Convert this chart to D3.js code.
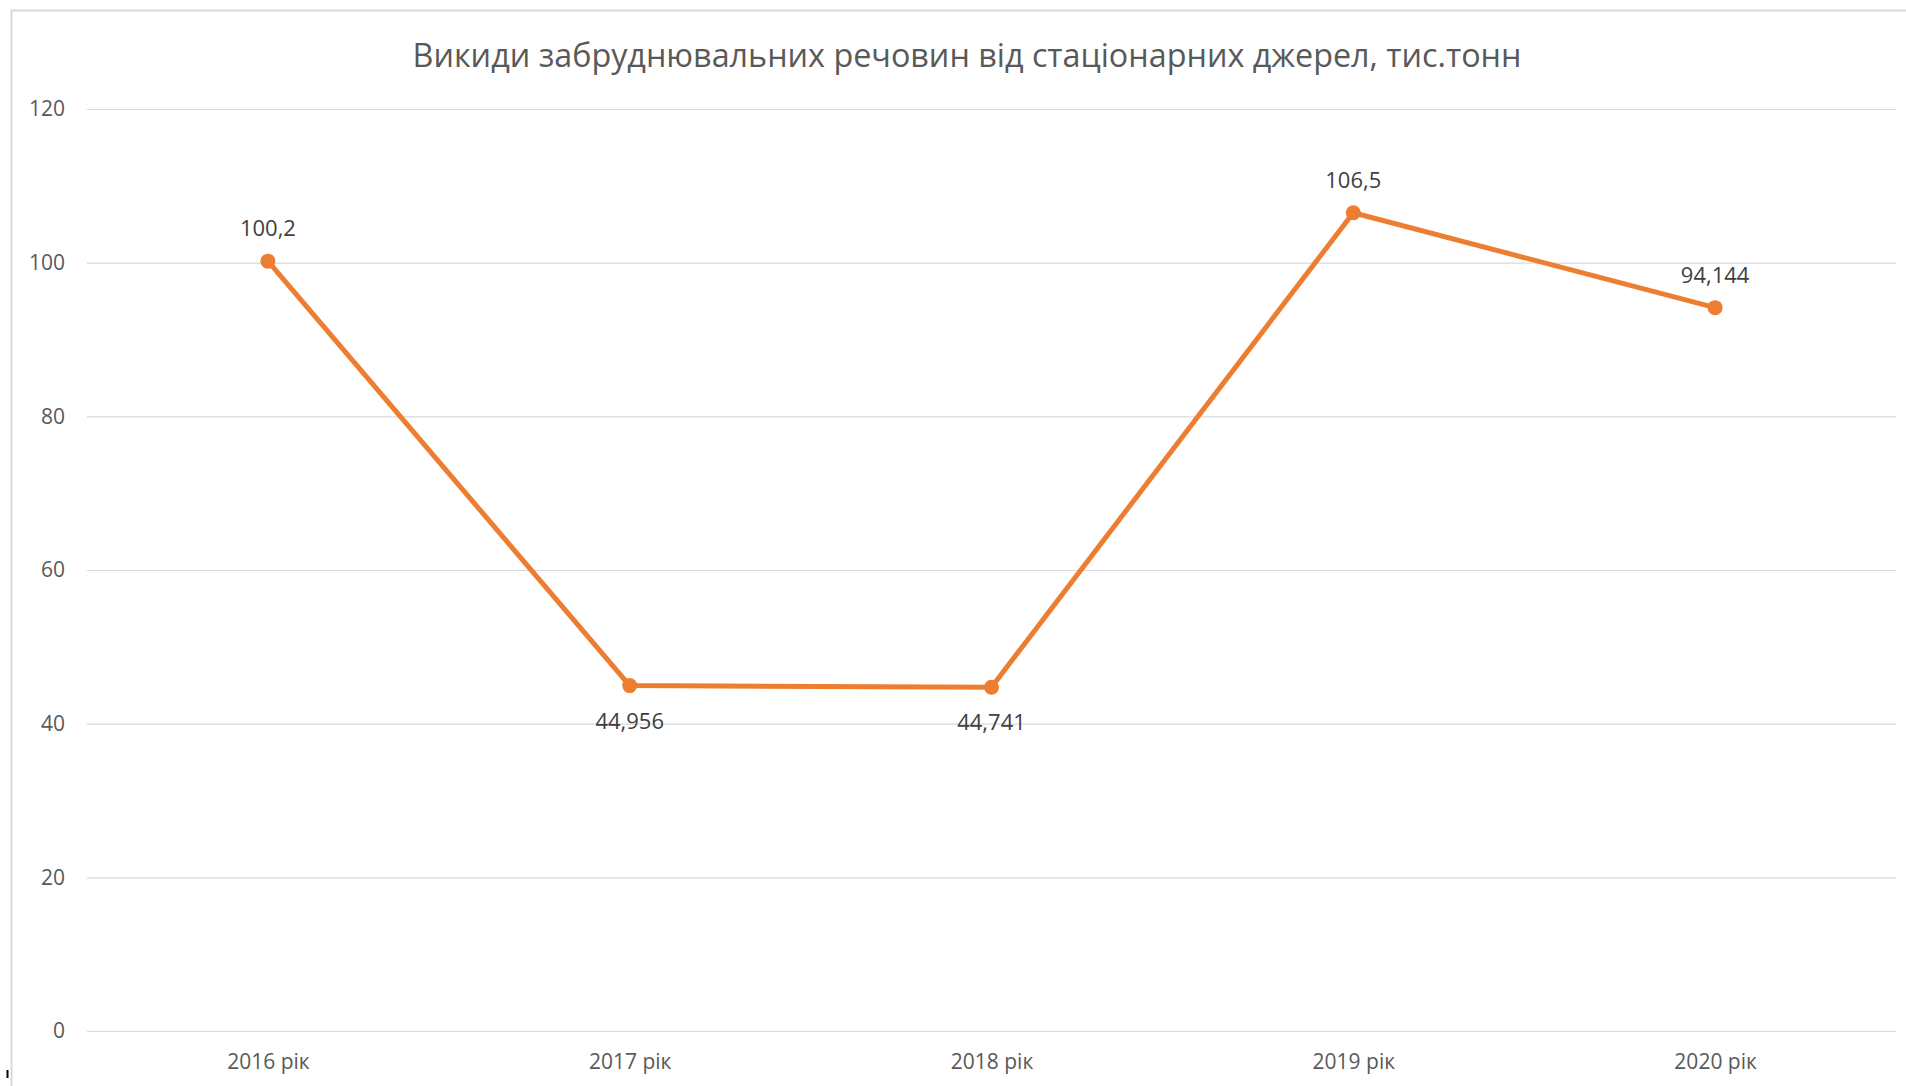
<!DOCTYPE html>
<html>
<head>
<meta charset="utf-8">
<script src="https://cdn.jsdelivr.net/npm/d3@7"></script>
<style>
  body { margin: 0; background: #fff; }
  svg { display: block; font-family: "Open Sans", sans-serif; }
</style>
</head>
<body>
<div id="chart"></div>
<script>
var title = 'Викиди забруднювальних речовин від стаціонарних джерел, тис.тонн';
var years = ['2016 рік', '2017 рік', '2018 рік', '2019 рік', '2020 рік'];
var emissions = [100.2, 44.956, 44.741, 106.5, 94.144];
var yTicks = [0, 20, 40, 60, 80, 100, 120];

var W = 1906, H = 1086;
var margin = {top: 109, right: 10, bottom: 55, left: 87};
var width = 1896 - margin.left;
var height = 1031 - margin.top;

var data = years.map(function (y, i) { return {year: y, value: emissions[i]}; });
var mean = d3.mean(emissions);

var x = d3.scalePoint().domain(years).range([0, width]).padding(0.5);
var y = d3.scaleLinear().domain([0, 120]).range([height, 0]);

var fmt = function (v) { return String(v).replace('.', ','); };

var svg = d3.select('#chart').append('svg')
    .attr('width', W)
    .attr('height', H);

// Chart area border
svg.append('rect')
  .attr('x', 11.5)
  .attr('y', 10.5)
  .attr('width', W + 20)
  .attr('height', H + 20)
  .attr('fill', 'none')
  .attr('stroke', '#d9d9d9')
  .attr('stroke-width', 2);

svg.append('path')
  .attr('d', 'M7.5,1070V1078')
  .attr('stroke', '#000')
  .attr('stroke-width', 2);

// Title
svg.append('text')
  .attr('x', 967)
  .attr('y', 67)
  .attr('text-anchor', 'middle')
  .style('font-size', '32.3px')
  .style('fill', '#595959')
  .text(title);

var g = svg.append('g')
    .attr('transform', 'translate(' + margin.left + ',' + margin.top + ')');

// Gridlines + Y axis
var yAxis = d3.axisLeft(y).tickValues(yTicks).tickSize(-width).tickPadding(22);
g.append('g')
  .attr('class', 'y-axis')
  .call(yAxis)
  .call(function (s) {
    s.select('.domain').remove();
    s.selectAll('line').attr('stroke', '#d9d9d9').attr('stroke-width', 1.2);
    s.selectAll('text')
      .style('font-size', '21px')
      .style('font-family', '"Open Sans", sans-serif')
      .attr('fill', '#595959');
  });

// X axis
var xAxis = d3.axisBottom(x).tickSize(0).tickPadding(23);
g.append('g')
  .attr('class', 'x-axis')
  .attr('transform', 'translate(0,' + height + ')')
  .call(xAxis)
  .call(function (s) {
    s.select('.domain').attr('stroke', '#d9d9d9').attr('stroke-width', 1.2);
    s.selectAll('text')
      .style('font-size', '21px')
      .style('font-family', '"Open Sans", sans-serif')
      .attr('fill', '#595959');
  });

// Line
var line = d3.line()
    .x(function (d) { return x(d.year); })
    .y(function (d) { return y(d.value); });

g.append('path')
  .datum(data)
  .attr('fill', 'none')
  .attr('stroke', '#ed7d31')
  .attr('stroke-width', 5)
  .attr('stroke-linejoin', 'round')
  .attr('d', line);

// Markers
g.selectAll('.dot')
  .data(data)
  .enter().append('circle')
  .attr('class', 'dot')
  .attr('cx', function (d) { return x(d.year); })
  .attr('cy', function (d) { return y(d.value); })
  .attr('r', 7.5)
  .attr('fill', '#ed7d31');

// Data labels
g.selectAll('.label')
  .data(data)
  .enter().append('text')
  .attr('class', 'label')
  .attr('x', function (d) { return x(d.year); })
  .attr('y', function (d) {
    return d.value < mean ? y(d.value) + 43 : y(d.value) - 25;
  })
  .attr('text-anchor', 'middle')
  .style('font-size', '22px')
  .style('fill', '#404040')
  .text(function (d) { return fmt(d.value); });
</script>
</body>
</html>
